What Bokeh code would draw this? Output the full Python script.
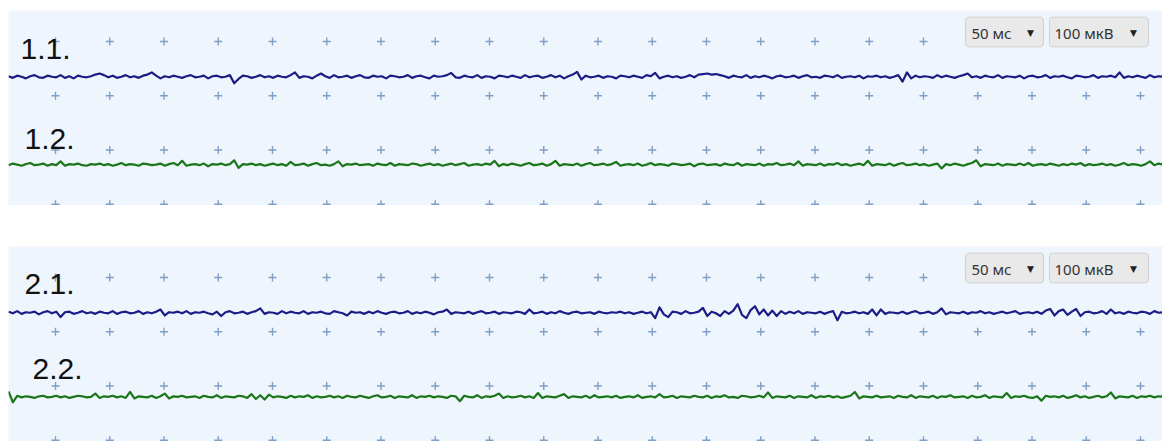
import numpy as np
from bokeh.plotting import figure
from bokeh.models import Range1d, Label, BoxAnnotation
from bokeh.layouts import column
from bokeh.embed import file_html
from bokeh.resources import INLINE

# ---------------- data (µV, one sample every 4 ms) ----------------
SAMPLE_MS = 4.0
T_START = -43.3          # ms at the left edge of the sweep
MS_PER_DIV = 50          # "50 мс"
UV_PER_DIV = 100         # "100 мкВ"

ch_1_1 = [
    1, -2, 2, 0, -3, 1, 3, -1, -2, 2, 0, -1, 3, -2, 1, -3, 2, 0, -1, 1,
    4, 6, 3, -1, 2, -2, 0, 3, -1, 1, -2, 2, 4, 8, 2, -3, 1, -1, 2, 0,
    -2, 1, 3, -1, 0, 2, -3, 1, 2, -1, 0, 3, -12, -4, 2, 1, -2, 0, 3, -1,
    1, -2, 2, 0, -1, 3, 8, -2, 1, 0, -3, 2, 6, 1, -2, 3, -1, 0, 2, -2,
    1, 3, -1, -2, 2, 0, 1, -3, 2, 1, -1, 0, 3, -2, 1, 2, -1, -3, 2, 0,
    1, 3, 7, -1, -2, 2, 0, -1, 3, -2, 1, 0, -3, 2, 1, -1, 2, 0, -2, 3,
    -1, 1, 2, -2, 0, 3, -1, 2, -3, 1, 4, 9, -5, 2, -1, 0, 2, -2, 1, 0,
    -3, 2, 1, -1, 2, 0, -2, 3, 1, 7, -3, 0, 2, -1, 1, -2, 0, 3, -1, 4,
    5, 6, 4, 5, 3, 1, -2, 2, 0, -1, 3, -2, 1, -1, 2, 0, -3, 1, 2, -1,
    0, 2, -2, 1, 3, -1, 0, -2, 2, 1, -1, 3, -2, 0, 1, -1, 2, -3, 1, 0,
    2, -1, 1, -2, 0, 3, -9, 8, -3, 2, -1, 1, 0, -2, 3, -1, 2, 0, -2, 1,
    3, 6, -1, 1, -2, 2, 0, -1, 3, -2, 1, 0, -1, 2, -3, 1, 2, -1, 0, 3,
    -2, 1, 0, 2, -1, -3, 2, 1, -1, 0, 3, -2, 1, 0, 2, -1, 8, -2, 1, -1,
    2, 0, -2, 3, -1, 1, 0,
]
ch_1_2 = [
    -1, 2, 0, -2, 1, 3, -1, 0, 2, -2, 1, -1, 6, -2, 1, 0, 2, -1, -2, 1,
    0, 2, -1, 1, -2, 0, 3, -1, 1, 0, -2, 2, 1, -1, 0, 2, -2, 1, 3, -1,
    7, -2, 0, 1, -1, 2, -3, 1, 0, 2, -1, 1, 8, -6, 1, 0, 2, -1, 1, -2,
    0, 2, -1, 1, -2, 5, -1, 0, 2, -2, 1, 3, -1, 0, -2, 1, 6, -3, 1, 0,
    2, -1, 0, 1, -2, 2, 0, -1, 3, -2, 1, 0, -1, 2, 1, -2, 0, 2, -1, 1,
    -2, 0, 2, -1, 1, 3, -2, 0, 1, -1, 2, 0, 7, -3, 1, -1, 2, 0, -2, 1,
    3, -1, 0, 2, -2, 1, 7, -2, 1, 0, -1, 2, -2, 1, 3, -1, 0, 2, -1, 1,
    5, -2, 0, 1, -1, 2, -2, 0, 3, -1, 1, 0, -2, 2, 1, -1, 0, 2, -3, 1,
    2, -1, 0, 1, -2, 2, 0, -1, 3, -2, 1, 0, -1, 2, -2, 1, 0, 3, -1, 0,
    2, -1, 6, -2, 1, 0, -1, 2, -2, 1, 0, 3, -1, 1, -2, 0, 2, -1, 7, -2,
    1, 0, -1, 2, -2, 1, 3, -1, 0, 2, -1, 1, -2, 0, 2, -7, 1, -1, 2, 0,
    -2, 1, 3, 8, -3, 1, 0, -1, 2, -2, 1, 0, -1, 2, -1, 3, -2, 0, 1, -1,
    2, 0, -2, 1, -1, 2, 0, 3, -2, 1, -1, 0, 2, -1, 1, -2, 0, 3, -1, 1,
    0, -2, 1, 6, -1, 2, 0,
]
ch_2_1 = [
    2, -1, 3, -2, 1, 0, 2, -3, 1, 3, -1, 2, -8, 1, 2, -2, 0, 3, -1, 1,
    -2, 2, 0, -1, 3, -2, 1, 2, -1, 0, 3, -2, 1, -1, 2, 6, -5, 1, 0, 2,
    -1, 3, -2, 1, 0, 2, -1, -3, 2, -6, 1, 3, -1, 0, 2, -2, 1, 3, 8, -2,
    1, 0, -2, 3, -1, 2, 0, -1, 3, -2, 1, 0, 2, -1, -2, 3, 1, -1, -5, 2,
    0, 1, -2, 2, -1, 3, 0, -2, 1, 2, -1, 0, 3, -2, 1, -1, 2, 0, -3, 1,
    2, 6, -2, 1, 0, -1, 2, -2, 1, 3, -1, 0, 2, -2, 1, 0, -1, 2, 1, -2,
    6, -1, 0, 2, -2, 1, -1, 3, 0, -2, 1, 2, -1, 0, 1, -2, 2, 0, -1, 1,
    0, 2, -1, 1, -2, 0, 2, -1, 1, -10, 10, -3, -8, 2, 1, -2, 3, -1, 0, 2,
    9, -6, 2, -1, -6, 3, -2, 4, 16, -4, -10, 5, 12, -3, 6, -5, 4, -6, 3, -2,
    2, -1, 3, -2, 1, 0, -1, 2, -2, 1, 3, -14, 2, -1, 0, 2, -1, 1, -2, 6,
    -5, 6, -2, 1, 0, -1, 2, -2, 1, 3, -1, 0, 2, -2, 1, 8, -3, 1, 0, -1,
    2, -2, 1, 0, 3, -1, 1, -2, 0, 2, -1, 1, 3, -2, 0, 1, -1, 2, -2, 4,
    7, -5, 3, 6, -4, 2, 7, -6, 1, 2, -1, 0, 3, -2, 6, -1, 1, -2, 2, 0,
    -1, 2, 1, -2, 3, 0, 1,
]
ch_2_2 = [
    10, -10, 2, -1, 1, 0, -2, 1, 2, -1, 0, 2, -1, 1, -2, 0, 2, 1, -1, 0,
    6, -2, 1, 0, 2, -1, 1, -2, 9, -3, 1, 0, -1, 2, -2, 1, 6, -3, 1, 0,
    2, -1, 0, 1, -2, 2, 0, -1, 3, -2, 1, 0, -1, 2, 1, -2, 5, -4, 3, -5,
    4, -1, 1, 0, -2, 2, -1, 1, 0, 3, -2, 1, -1, 0, 2, -1, 1, -2, 2, 0,
    -1, 2, 0, -2, 1, 3, -1, 0, 2, -2, 1, 0, -1, 3, -2, 1, 0, 2, -1, 1,
    0, -2, 2, 1, -8, 2, 0, -1, 3, -2, 1, 0, 2, 6, -2, 1, -1, 0, 2, -1,
    1, -2, 7, -2, 1, 0, -1, 2, 5, -2, 1, 0, -1, 2, -2, 3, -1, 0, 1, -1,
    2, -2, 0, 1, -1, 3, -2, 0, 1, -1, 5, -1, 0, 2, -2, 1, 0, -1, 2, 0,
    -1, 2, -2, 1, 0, 3, -1, 0, -2, 2, 1, -1, 0, 2, -1, 8, -2, 1, 0, -1,
    2, -2, 1, 0, -1, 3, -2, 1, 0, 2, -1, 1, -2, 0, 2, 9, -3, 1, 0, -1,
    2, -1, 0, 1, -2, 2, 0, -1, 3, -2, 1, 0, -1, 2, -2, 1, 0, 3, -1, 0,
    1, -2, 2, -1, 0, 3, -2, 1, 0, -1, 7, -2, 1, 0, 2, -1, -2, 1, -7, 2,
    0, 1, -1, 2, -2, 0, 3, -1, 1, -2, 0, 2, -1, 1, 8, -3, 1, 0, -1, 2,
    -2, 1, 0, 2, -1, 1, 0,
]

channel_labels = ["1.1.", "1.2.", "2.1.", "2.2."]
sweep_text = "50 мс"
gain_text = "100 мкВ"

# ---------------- geometry ----------------
W = 1154
LEFT_PAD = 8
PX_PER_DIV = 54.25
MS_PX = MS_PER_DIV / PX_PER_DIV
UV_PX = UV_PER_DIV / PX_PER_DIV
X0 = -47 * MS_PX
Y_TOP = 31 * UV_PX


def xd(px):
    return X0 + px * MS_PX


def yd(py):
    return Y_TOP - py * UV_PX


BG = "#eef5fc"
BLUE = "#1c1c86"
GREEN = "#1b761b"
CROSS = "#7f9fc6"


def make_panel(frame_h, top_border, trace_a, trace_b, base_a, base_b,
               lab_a, lab_b, lab_a_pos, lab_b_pos):
    p = figure(width=W + LEFT_PAD, height=frame_h + top_border,
               output_backend="svg", toolbar_location=None,
               x_range=Range1d(xd(0), xd(W)),
               y_range=Range1d(yd(frame_h), yd(0)),
               min_border_left=LEFT_PAD, min_border_right=0,
               min_border_bottom=0, min_border_top=top_border)
    p.axis.visible = False
    p.grid.visible = False
    p.outline_line_color = None
    p.background_fill_color = BG
    p.border_fill_color = "white"

    # grid crosses
    gx, gy = np.meshgrid(np.arange(0, 1001, MS_PER_DIV),
                         np.array([0, -100, -200, -300]))
    p.scatter(gx.ravel(), gy.ravel(), marker="cross", size=8,
              line_color=CROSS, line_width=1.4)

    for vals, base, col in ((trace_a, base_a, BLUE), (trace_b, base_b, GREEN)):
        v = np.asarray(vals, dtype=float)
        t = T_START + SAMPLE_MS * np.arange(len(v))
        p.line(t, v + base, line_color=col, line_width=2.2, line_join="round")

    for txt, (lx, ly) in ((lab_a, lab_a_pos), (lab_b, lab_b_pos)):
        p.add_layout(Label(x=xd(lx), y=yd(ly), text=txt,
                           text_font="Liberation Sans", text_font_size="30px",
                           text_color="#111111", text_baseline="alphabetic"))

    # dropdown boxes
    for (l, r, txt, tri_x, txt_x) in ((957, 1035, sweep_text, 1022, 963),
                                      (1041, 1140, gain_text, 1125, 1046)):
        p.add_layout(BoxAnnotation(left=xd(l), right=xd(r),
                                   top=yd(6.5), bottom=yd(36.5),
                                   fill_color="#e9e9e9", fill_alpha=1.0,
                                   line_color="#959595", line_width=1.2,
                                   border_radius=4))
        p.add_layout(Label(x=xd(txt_x), y=yd(22), text=txt,
                           text_font="Noto Sans", text_font_size="15px",
                           text_color="#333333", text_baseline="middle"))
        p.add_layout(Label(x=xd(tri_x), y=yd(22), text="▼",
                           text_font="DejaVu Sans", text_font_size="9px",
                           text_color="#222222", text_baseline="middle",
                           text_align="center"))
    return p


p1 = make_panel(195, 10, ch_1_1, ch_1_2, -65, -227,
                channel_labels[0], channel_labels[1], (12, 38), (16, 128))
p2 = make_panel(195, 41, ch_2_1, ch_2_2, -65, -220,
                channel_labels[2], channel_labels[3], (16, 37), (24, 122))

layout = column(p1, p2, spacing=0)
open("out.html", "w").write(file_html(layout, INLINE))
